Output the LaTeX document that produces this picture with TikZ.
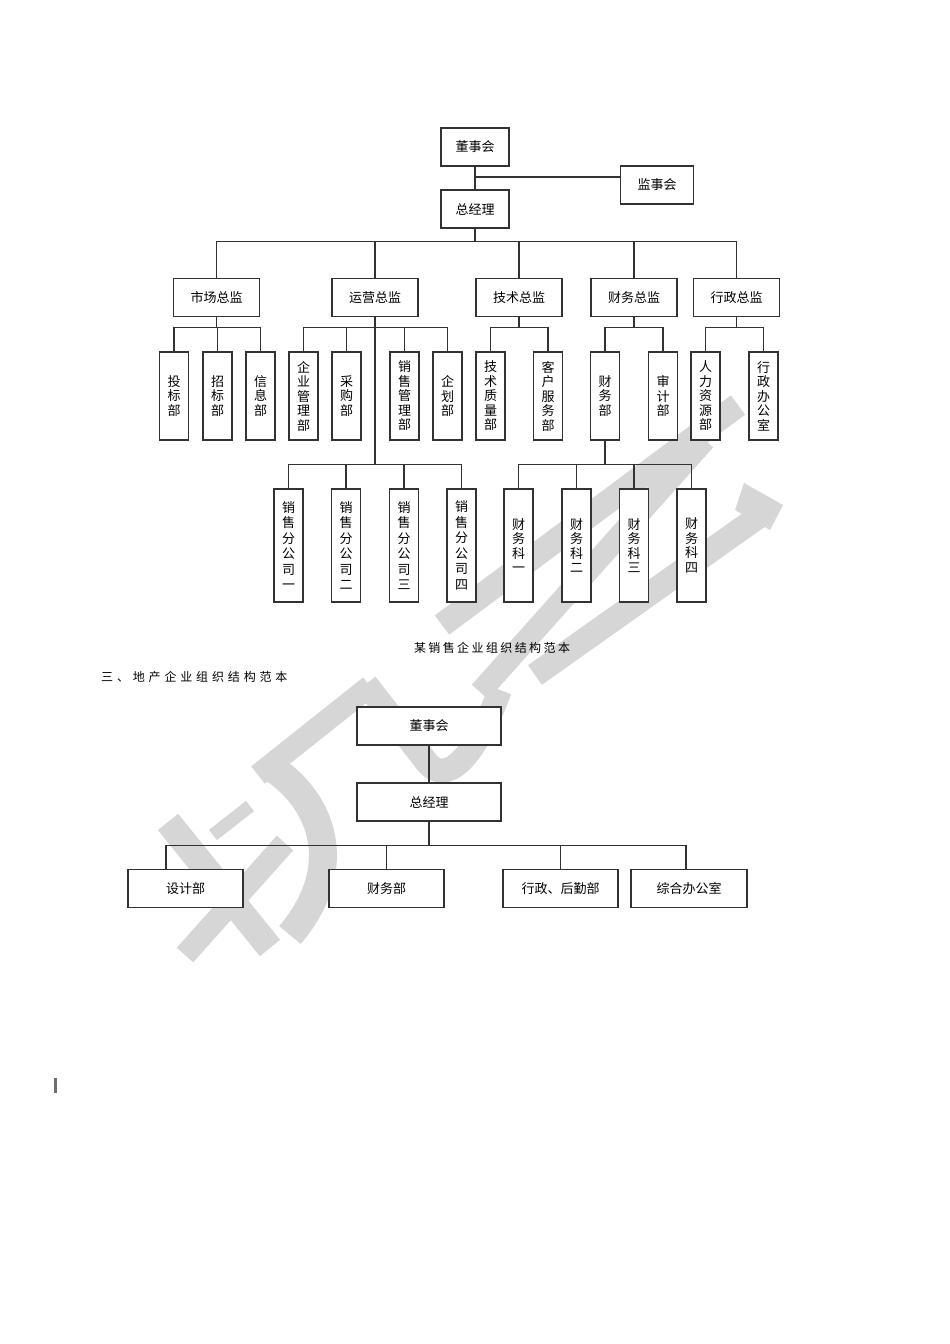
\documentclass[tikz,border=0pt]{standalone}
\usepackage{fontspec}
\setmainfont{Noto Sans CJK SC}
\newfontfamily\capfont[LetterSpace=20]{Noto Sans CJK SC}
\newfontfamily\headfont[LetterSpace=32]{Noto Sans CJK SC}
\usepackage{tikz}
\usetikzlibrary{positioning,calc}
\definecolor{ink}{RGB}{50,50,50}
\definecolor{wmgray}{RGB}{214,214,214}
\tikzset{
  org/.style={draw=ink, line width=1.2pt, fill=white, inner sep=0pt, align=center, minimum width=#1, minimum height=38pt, font=\fontsize{13}{14}\selectfont},
  org/.default={68pt},
  dept/.style={draw=ink, line width=1.2pt, fill=white, inner sep=0pt, align=center, minimum width=29pt, minimum height=#1, font=\fontsize{13}{14.5}\selectfont},
  dept/.default={88pt},
  conn/.style={draw=ink, line width=1.2pt},
  wm/.style={draw=wmgray, line width=#1, line cap=butt, line join=round},
  wm/.default={24pt},
  captxt/.style={font=\capfont\fontsize{12}{13}\selectfont, inner sep=0pt},
  headtxt/.style={font=\headfont\fontsize{12}{13}\selectfont, inner sep=0pt, anchor=west}
}
\begin{document}
\begin{tikzpicture}[x=1pt, y=-1pt]
  \useasboundingbox (0,0) rectangle (950,1344);
  % watermark
  \draw[wm=22pt] (185,955) -- (285,843);
  \draw[wm=22pt] (258,775) -- (370,686);
  \draw[wm=28pt] (275,770) .. controls (325,805) and (345,870) .. (290,935);
  \draw[wm=26pt] (168,822) -- (270,948);
  \draw[wm=13pt] (213,835) -- (250,806);
  \draw[wm=24pt] (366,684) -- (425,760) .. controls (440,782) and (468,775) .. (500,690);
  \draw[wm=24pt] (738,405) -- (442,625);
  \draw[wm=22pt] (705,440) -- (480,692);
  \draw[wm=24pt] (765,512) -- (535,675);
  \fill[wmgray] (744,483) -- (783,505) -- (770,530) -- (735,510) -- cycle;

  % top chart
  \node[org] (dsh) at (475,147) {董事会};
  \node[org=73pt] (jsh) at (657,185) {监事会};
  \node[org] (zjl) at (475,209) {总经理};
  \coordinate (jbr) at (475,177);
  \draw[conn] (dsh.south) -- (zjl.north);
  \draw[conn] (jbr) -- (jbr -| jsh.west);

  \node[org=86pt] (sc) at (216.5,297.5) {市场总监};
  \node[org=86pt] (yy) at (375,297.5) {运营总监};
  \node[org=86pt] (js) at (519,297.5) {技术总监};
  \node[org=86pt] (cw) at (634,297.5) {财务总监};
  \node[org=86pt] (xz) at (736.5,297.5) {行政总监};
  \foreach \c in {sc,yy,js,cw,xz}
    \draw[conn] (zjl.south) -- ++(0,13) -| (\c.north);

  \node[dept] (tb) at (174,396) {投\\标\\部};
  \node[dept] (zb) at (217.5,396) {招\\标\\部};
  \node[dept] (xx) at (260.5,396) {信\\息\\部};
  \node[dept] (qg) at (303.5,396) {企\\业\\管\\理\\部};
  \node[dept] (cg) at (346.5,396) {采\\购\\部};
  \node[dept] (xg) at (404.5,396) {销\\售\\管\\理\\部};
  \node[dept] (qh) at (447.5,396) {企\\划\\部};
  \node[dept] (jz) at (490.5,396) {技\\术\\质\\量\\部};
  \node[dept] (kf) at (548,396) {客\\户\\服\\务\\部};
  \node[dept] (cwb) at (605,396) {财\\务\\部};
  \node[dept] (sj) at (663,396) {审\\计\\部};
  \node[dept] (rl) at (705.5,396) {人\\力\\资\\源\\部};
  \node[dept] (xb) at (763.5,396) {行\\政\\办\\公\\室};
  \foreach \c in {tb,zb,xx}
    \draw[conn] (sc.south) -- ++(0,10) -| (\c.north);
  \foreach \c in {qg,cg,xg,qh}
    \draw[conn] (yy.south) -- ++(0,10) -| (\c.north);
  \foreach \c in {jz,kf}
    \draw[conn] (js.south) -- ++(0,10) -| (\c.north);
  \foreach \c in {cwb,sj}
    \draw[conn] (cw.south) -- ++(0,10) -| (\c.north);
  \foreach \c in {rl,xb}
    \draw[conn] (xz.south) -- ++(0,10) -| (\c.north);

  \node[dept=113pt, font=\fontsize{13}{15.5}\selectfont] (fg1) at (288.5,545.5) {销\\售\\分\\公\\司\\一};
  \node[dept=113pt, font=\fontsize{13}{15.5}\selectfont] (fg2) at (346,545.5) {销\\售\\分\\公\\司\\二};
  \node[dept=113pt, font=\fontsize{13}{15.5}\selectfont] (fg3) at (404,545.5) {销\\售\\分\\公\\司\\三};
  \node[dept=113pt, font=\fontsize{13}{15.5}\selectfont] (fg4) at (461.5,545.5) {销\\售\\分\\公\\司\\四};
  \node[dept=113pt] (ck1) at (518.5,545.5) {财\\务\\科\\一};
  \node[dept=113pt] (ck2) at (576.5,545.5) {财\\务\\科\\二};
  \node[dept=113pt] (ck3) at (634,545.5) {财\\务\\科\\三};
  \node[dept=113pt] (ck4) at (691.5,545.5) {财\\务\\科\\四};
  \foreach \c in {fg1,fg2,fg3,fg4}
    \draw[conn] (yy.south) -- ++(0,147) -| (\c.north);
  \foreach \c in {ck1,ck2,ck3,ck4}
    \draw[conn] (cwb.south) -- ++(0,24) -| (\c.north);

  \node[captxt] (cap1) at (492,648) {某销售企业组织结构范本};
  \node[headtxt] (sec3) at (101,677) {三、地产企业组织结构范本};

  % bottom chart
  \node[org=144pt] (bdsh) at (429,726) {董事会};
  \node[org=144pt] (bzjl) at (429,802) {总经理};
  \node[org=115pt] (sjb) at (185.5,888.5) {设计部};
  \node[org=115pt] (bcw) at (386.5,888.5) {财务部};
  \node[org=115pt] (hq) at (560.5,888.5) {行政、后勤部};
  \node[org=116pt] (zh) at (689,888.5) {综合办公室};
  \draw[conn] (bdsh.south) -- (bzjl.north);
  \draw[conn] (bzjl.south) -- ++(0,24) -| ([xshift=-19.5pt]sjb.north);
  \foreach \c in {bcw,hq}
    \draw[conn] (bzjl.south) -- ++(0,24) -| (\c.north);
  \draw[conn] (bzjl.south) -- ++(0,24) -| ([xshift=-3pt]zh.north);

  \draw[ink!70, line width=2.5pt] (55.5,1078) -- (55.5,1093);
\end{tikzpicture}
\end{document}
